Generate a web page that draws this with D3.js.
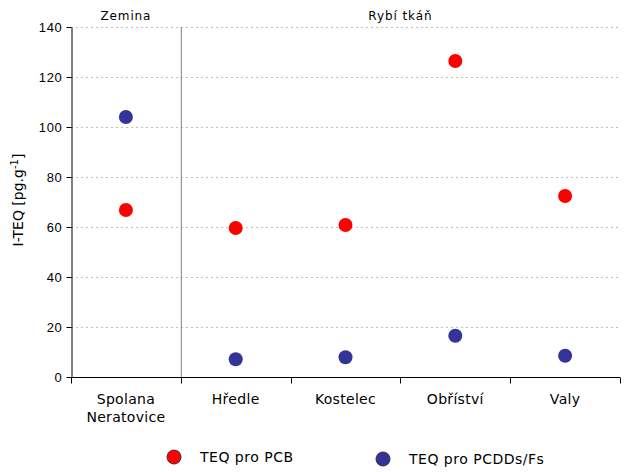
<!DOCTYPE html>
<html><head><meta charset="utf-8">
<script src="https://cdn.jsdelivr.net/npm/d3@7"></script>
<style>body{margin:0;background:#fff}svg{font-family:"DejaVu Sans",Verdana,sans-serif}</style>
</head><body>
<script>
const categories = ["Spolana\nNeratovice","Hředle","Kostelec","Obříství","Valy"];
const pcb = [66.8, 59.6, 60.8, 126.4, 72.4];
const pcdd = [104.0, 7.1, 7.9, 16.5, 8.5];
const yTicks = [0,20,40,60,80,100,120,140];
const seriesNames = ["TEQ pro PCB","TEQ pro PCDDs/Fs"];
const colors = ["#ff0000","#333399"];
const groups = [{label:"Zemina", from:0, to:1},{label:"Rybí tkáň", from:1, to:5}];

const W=635,H=472, m={l:71,r:15,t:27,b:95};
const svg=d3.select("body").append("svg").attr("width",W).attr("height",H);
const x=d3.scaleBand().domain(d3.range(categories.length)).range([m.l,W-m.r]);
const y=d3.scaleLinear().domain([0,140]).range([H-m.b,m.t]);

// grid
svg.append("g").selectAll("line").data(yTicks.filter(d=>d>0)).join("line")
 .attr("x1",m.l).attr("x2",W-m.r).attr("y1",d=>y(d)+0.5).attr("y2",d=>y(d)+0.5)
 .attr("stroke","#c0c0c0").attr("stroke-dasharray","2,3");
// separator
svg.append("line").attr("x1",x(1)+0.5).attr("x2",x(1)+0.5).attr("y1",y(140)).attr("y2",y(0))
 .attr("stroke","#808080");
// y axis
const ya=svg.append("g").attr("transform",`translate(${m.l+0.5},0)`)
 .call(d3.axisLeft(y).tickValues(yTicks).tickSize(5).tickSizeOuter(0));
ya.select(".domain").attr("stroke","#000");
ya.selectAll("text").attr("font-size",13).attr("letter-spacing",0.7).attr("fill","#000").attr("dx",-1);
// x axis
const xa=svg.append("g").attr("transform",`translate(0,${y(0)+0.5})`);
xa.append("line").attr("x1",m.l).attr("x2",W-m.r).attr("stroke","#000");
const edges=d3.range(categories.length+1).map(i=>i<categories.length?x(i):x(categories.length-1)+x.bandwidth());
xa.selectAll("line.t").data(edges).join("line").attr("class","t")
 .attr("x1",d=>Math.round(d)+0.5).attr("x2",d=>Math.round(d)+0.5).attr("y1",0).attr("y2",6).attr("stroke","#000");
xa.selectAll("text").data(categories).join("text")
 .attr("x",(d,i)=>x(i)+x.bandwidth()/2).attr("y",26).attr("text-anchor","middle")
 .attr("font-size",14).attr("letter-spacing",0.3).attr("fill","#000")
 .each(function(d){const t=d3.select(this);d.split("\n").forEach((s,k)=>t.append("tspan").attr("x",t.attr("x")).attr("dy",k?18:0).text(s));});
// group labels
svg.selectAll("text.grp").data(groups).join("text").attr("class","grp")
 .attr("x",d=>(x(d.from)+x(d.to-1)+x.bandwidth())/2).attr("y",20).attr("text-anchor","middle")
 .attr("font-size",12).attr("letter-spacing",0.9).text(d=>d.label);
// y label
svg.append("text").attr("transform",`translate(23,200) rotate(-90)`)
 .attr("text-anchor","middle").attr("font-size",14)
 .html('I-TEQ [pg.g<tspan dy="-5" font-size="10">-1</tspan><tspan dy="5">]</tspan>');
// points
[pcb,pcdd].forEach((s,k)=>{
 svg.append("g").selectAll("circle").data(s).join("circle")
  .attr("cx",(d,i)=>x(i)+x.bandwidth()/2).attr("cy",d=>y(d)).attr("r",7).attr("fill",colors[k]);
});
// legend
const lg=[{x:174,y:457},{x:383,y:459}];
seriesNames.forEach((n,k)=>{
 svg.append("circle").attr("cx",lg[k].x).attr("cy",lg[k].y).attr("r",7).attr("fill",colors[k]).attr("stroke","#333").attr("stroke-width",1);
 svg.append("text").attr("x",lg[k].x+26).attr("y",lg[k].y+5).attr("font-size",14).attr("letter-spacing",0.5).text(n);
});
</script>
</body></html>
